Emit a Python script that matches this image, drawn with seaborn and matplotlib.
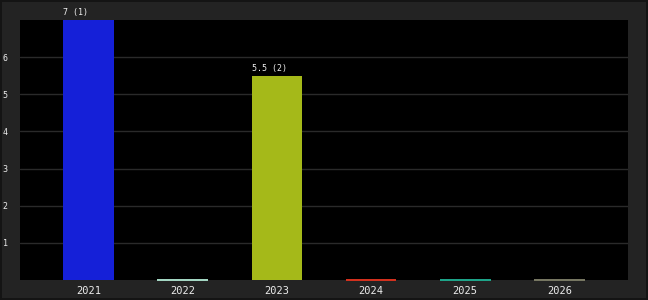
import matplotlib
matplotlib.use("Agg")
import matplotlib.pyplot as plt
import seaborn as sns
import pandas as pd

years = ["2021", "2022", "2023", "2024", "2025", "2026"]
values = [7, 0, 5.5, 0, 0, 0]
ranks = [1, None, 2, None, None, None]
colors = ["#1520d8", "#a8dcc8", "#a5b919", "#d8321e", "#1ea88c", "#7a7a64"]
yticks = [1, 2, 3, 4, 5, 6]

df = pd.DataFrame({"year": years, "value": values})

sns.set_theme(style="dark")
plt.rcParams["font.family"] = ["DejaVu Sans Mono", "DejaVu Sans"]

fig = plt.figure(figsize=(6.48, 3.0), dpi=100, facecolor="#232323")
fig.patch.set_edgecolor("#141414")
fig.patch.set_linewidth(1.5)
ax = fig.add_axes([20 / 648, 20 / 300, 608 / 648, 260 / 300])
ax.set_facecolor("#000000")

sns.barplot(data=df, x="year", y="value", hue="year", palette=colors,
            width=0.54, legend=False, ax=ax, saturation=1)
for patch, c, v in zip(ax.patches, colors, values):
    if v == 0:
        patch.set_edgecolor(c)
        patch.set_linewidth(1.4)
        patch.set_clip_on(False)
    else:
        patch.set_linewidth(0)

ax.set_xlim(-0.73, 5.73)
ax.set_ylim(0, 7)
ax.set_yticks(yticks)
ax.set_yticklabels([str(t) for t in yticks])
ax.yaxis.grid(True, color="#2a2a2a", linewidth=1)
ax.xaxis.grid(False)
ax.set_axisbelow(True)
for s in ax.spines.values():
    s.set_visible(False)
ax.set_xlabel("")
ax.set_ylabel("")
ax.tick_params(axis="x", colors="#ececec", labelsize=7.5, length=0, pad=4)
ax.tick_params(axis="y", colors="#ececec", labelsize=6, length=0, pad=9)

for patch, v, r in zip(ax.patches, values, ranks):
    if r is not None:
        ax.annotate(f"{v:g} ({r})", xy=(patch.get_x(), v), xytext=(0, 2),
                    textcoords="offset points", ha="left", va="bottom",
                    color="#f0f0f0", fontsize=6, annotation_clip=False)

fig.savefig("out.png", dpi=100, facecolor=fig.get_facecolor(), edgecolor=fig.patch.get_edgecolor())
